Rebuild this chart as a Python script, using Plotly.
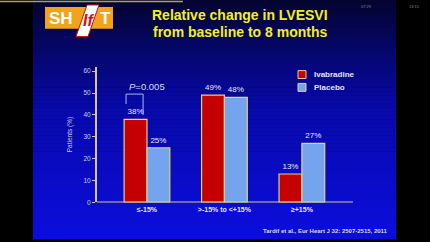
import plotly.graph_objects as go

W, H = 430, 242
categories = ["≤-15%", ">-15% to <+15%", "≥+15%"]
series_names = ["Ivabradine", "Placebo"]
ivabradine = [38, 49, 13]
placebo = [25, 48, 27]
y_ticks = [0, 10, 20, 30, 40, 50, 60]
title_lines = ["Relative change in LVESVI", "from baseline to 8 months"]
p_label = "<i>P</i>=0.005"
citation = "Tardif et al., Eur Heart J 32: 2507-2515, 2011"

FONT = "Liberation Sans, Arial, sans-serif"
RED = "#c40004"
BLUE = "#74a4ee"
EDGE = "#e6d27a"
AXIS = "#d8c888"

def px(x):
    return x / W

def py(y):
    return 1 - y / H

fig = go.Figure()
fig.add_trace(go.Bar(x=categories, y=ivabradine, name=series_names[0],
                     marker=dict(color=RED, line=dict(color=EDGE, width=1.2)),
                     text=[f"{v}%" for v in ivabradine], textposition="outside",
                     textfont=dict(color="#e8e8f4", size=8, family=FONT),
                     cliponaxis=False))
fig.add_trace(go.Bar(x=categories, y=placebo, name=series_names[1],
                     marker=dict(color=BLUE, line=dict(color=EDGE, width=1.2)),
                     text=[f"{v}%" for v in placebo], textposition="outside",
                     textfont=dict(color="#e8e8f4", size=8, family=FONT),
                     cliponaxis=False))

shapes = []
# slide background gradient
top_c = (4, 4, 48)
mid_c = (8, 10, 170)
bot_c = (12, 14, 222)
n = 60
for i in range(n):
    y0 = H * i / n
    y1 = H * (i + 1) / n
    t = (y0 + y1) / 2 / H
    if t < 0.45:
        u = t / 0.45
        c = tuple(int(top_c[k] + (mid_c[k] - top_c[k]) * u) for k in range(3))
    else:
        u = (t - 0.45) / 0.55
        c = tuple(int(mid_c[k] + (bot_c[k] - mid_c[k]) * u) for k in range(3))
    shapes.append(dict(type="rect", xref="paper", yref="paper", layer="below",
                       x0=px(33), x1=px(396), y0=py(y1) - 0.001, y1=py(y0) + 0.001,
                       fillcolor=f"rgb{c}", line=dict(width=0)))
# top yellow line
shapes.append(dict(type="line", xref="paper", yref="paper", x0=0, x1=px(183),
                   y0=py(1.5), y1=py(1.5), line=dict(color="#a8a840", width=1.5)))
# logo
shapes.append(dict(type="rect", xref="paper", yref="paper", x0=px(45), x1=px(113),
                   y0=py(29), y1=py(7), fillcolor="#f2a21c", line=dict(width=0)))
shapes.append(dict(type="path", xref="paper", yref="paper",
                   path=f"M {px(76)} {py(37)} L {px(88)} {py(37)} L {px(99)} {py(5)} L {px(87)} {py(5)} Z",
                   fillcolor="white", line=dict(color="#d01010", width=1)))
# axis lines
shapes.append(dict(type="line", xref="paper", yref="y", x0=px(97), x1=px(353),
                   y0=0, y1=0, line=dict(color=AXIS, width=2)))
# P bracket
shapes.append(dict(type="path", xref="x", yref="y",
                   path="M -0.27 45 L -0.27 49.5 L -0.05 49.5 L -0.05 40",
                   line=dict(color="#a8b8f0", width=1)))
# legend boxes
for i, col in enumerate([RED, BLUE]):
    yc = 75.5 + 13 * i
    shapes.append(dict(type="rect", xref="paper", yref="paper", x0=px(298), x1=px(306),
                       y0=py(yc + 4), y1=py(yc - 4), fillcolor=col,
                       line=dict(color=EDGE, width=1)))

ann = []
for i, line in enumerate(title_lines):
    ann.append(dict(text=f"<b>{line}</b>", x=px(240), y=py(15 + 17 * i), xref="paper", yref="paper",
                    showarrow=False, font=dict(color="#f4f01c", size=14, family=FONT),
                    xanchor="center", yanchor="middle"))
ann.append(dict(text="<b>SH</b>", x=px(47), y=py(18.5), xref="paper", yref="paper",
                showarrow=False, xanchor="left", yanchor="middle",
                font=dict(color="white", size=17, family=FONT)))
ann.append(dict(text="<b>T</b>", x=px(98), y=py(18.5), xref="paper", yref="paper",
                showarrow=False, xanchor="left", yanchor="middle",
                font=dict(color="white", size=17, family=FONT)))
ann.append(dict(text="<b><i>If</i></b>", x=px(88), y=py(21), xref="paper", yref="paper",
                showarrow=False, xanchor="center", yanchor="middle",
                font=dict(color="#d01010", size=16, family=FONT)))
ann.append(dict(text="07:29", x=px(374), y=py(2.5), xref="paper", yref="paper",
                showarrow=False, font=dict(color="#888888", size=4, family=FONT)))
ann.append(dict(text="13:15", x=px(422), y=py(2.5), xref="paper", yref="paper",
                showarrow=False, font=dict(color="#888888", size=4, family=FONT)))
ann.append(dict(text=p_label, x=0.0, y=52.8, xref="x", yref="y", showarrow=False,
                font=dict(color="#d8dcf4", size=9.5, family=FONT)))
ann.append(dict(text="Patients (%)", x=px(70), y=py(137), xref="paper", yref="paper",
                showarrow=False, textangle=-90, xanchor="center", yanchor="middle",
                font=dict(color="#c8cce8", size=6.5, family=FONT)))
for i, nm in enumerate(series_names):
    ann.append(dict(text=f"<b>{nm}</b>", x=px(312), y=py(75.5 + 13 * i), xref="paper", yref="paper",
                    showarrow=False, xanchor="left", yanchor="middle",
                    font=dict(color="#e4e6f4", size=8, family=FONT)))
ann.append(dict(text=f"<b>{citation}</b>", x=px(390), y=py(234), xref="paper", yref="paper",
                showarrow=False, xanchor="right", yanchor="middle",
                font=dict(color="#d8dcf0", size=6, family=FONT)))

fig.update_layout(
    width=W, height=H, margin=dict(l=0, r=0, t=0, b=0),
    paper_bgcolor="black", plot_bgcolor="rgba(0,0,0,0)",
    barmode="group", bargap=0.41, bargroupgap=0,
    showlegend=False, shapes=shapes, annotations=ann,
    xaxis=dict(domain=[px(97), px(353)], range=[-0.645, 2.66], showgrid=False,
               zeroline=False, showline=False, ticks="",
               tickfont=dict(color="#e6e8f6", size=7, family=FONT),
               ticklabelstandoff=2, fixedrange=True),
    yaxis=dict(domain=[py(205), py(67.6)], range=[0, 62], tickvals=y_ticks,
               showgrid=False, zeroline=False, showline=True, linecolor=AXIS, linewidth=2,
               ticks="outside", ticklen=3, tickcolor=AXIS,
               tickfont=dict(color="#c8cce8", size=6.5, family=FONT), fixedrange=True),
    font=dict(family=FONT),
)
for i in range(len(categories)):
    pass
fig.update_xaxes(tickprefix="<b>", ticksuffix="</b>")
fig.write_html("out.html")
